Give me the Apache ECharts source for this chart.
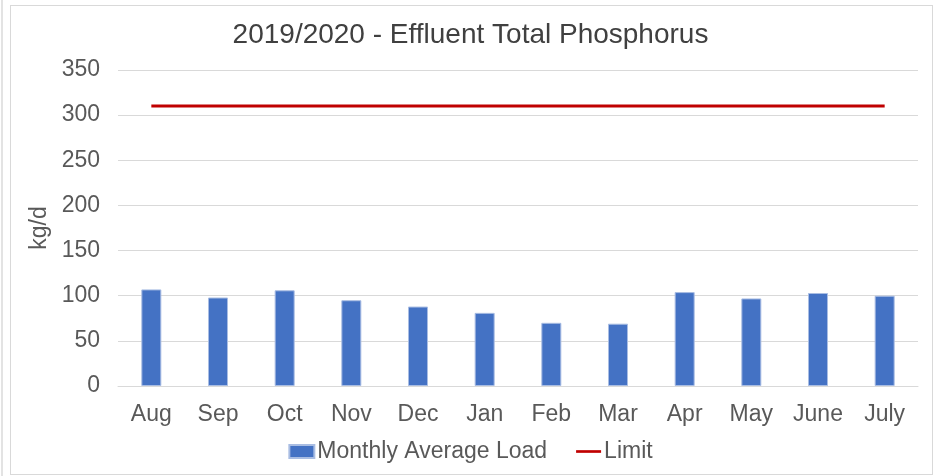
<!DOCTYPE html>
<html>
<head>
<meta charset="utf-8">
<script src="https://cdn.jsdelivr.net/npm/echarts@6/dist/echarts.min.js"></script>
<style>
html,body{margin:0;padding:0;background:#fff;}
#wrap{position:absolute;left:10px;top:5px;width:923px;height:470px;border:1.5px solid #d9d9d9;box-sizing:border-box;}
#strip{position:absolute;left:1px;top:0;width:2px;height:476px;background:#e3e3e3;}
#c{position:absolute;left:0;top:0;width:941px;height:476px;}
</style>
</head>
<body>
<div id="strip"></div>
<div id="wrap"></div>
<div id="c"></div>
<script>
const categories = ['Aug','Sep','Oct','Nov','Dec','Jan','Feb','Mar','Apr','May','June','July'];
const monthlyAverageLoad = [107, 98, 106, 95, 88, 81, 70, 69, 104, 97, 103, 100];
const limitValues = [310, 310, 310, 310, 310, 310, 310, 310, 310, 310, 310, 310];
const yTicks = [0, 50, 100, 150, 200, 250, 300, 350];

const chart = echarts.init(document.getElementById('c'));
const font = 'Liberation Sans, Arial, sans-serif';
chart.setOption({
  animation: false,
  title: {
    text: '2019/2020 - Effluent Total Phosphorus',
    left: 'center', top: 16,
    textStyle: {fontFamily: font, fontSize: 28, fontWeight: 'normal', color: '#404040'}
  },
  grid: {left: 118, right: 23, top: 70, bottom: 90},
  legend: {
    bottom: 8, left: 'center',
    itemWidth: 25, itemHeight: 13, itemGap: 29,
    textStyle: {fontFamily: font, fontSize: 23, color: '#595959', padding: [0, 0, 0, -2]},
    data: [
      {name: 'Monthly Average Load', icon: 'rect'},
      {name: 'Limit', icon: 'path://M0,0 L28,0 L28,3 L0,3 Z'}
    ]
  },
  xAxis: {
    type: 'category', data: categories,
    axisLine: {lineStyle: {color: '#d9d9d9', width: 1}},
    axisTick: {show: false},
    axisLabel: {fontFamily: font, fontSize: 23, color: '#595959', margin: 17}
  },
  yAxis: {
    type: 'value', min: 0, max: 350, interval: 50,
    name: 'kg/d', nameLocation: 'middle', nameGap: 60, nameRotate: 90,
    nameTextStyle: {fontFamily: font, fontSize: 23, color: '#595959'},
    axisLine: {show: false}, axisTick: {show: false},
    axisLabel: {fontFamily: font, fontSize: 23, color: '#595959', margin: 18,
      formatter: v => yTicks.includes(v) ? String(v) : ''},
    splitLine: {lineStyle: {color: '#d9d9d9', width: 1}}
  },
  series: [
    {
      name: 'Monthly Average Load', type: 'bar', data: monthlyAverageLoad,
      barWidth: '30%',
      itemStyle: {color: '#4472C4', borderColor: '#a9bde3', borderWidth: 1}
    },
    {
      name: 'Limit', type: 'line', data: limitValues,
      symbol: 'none',
      lineStyle: {color: '#C00000', width: 3},
      itemStyle: {color: '#C00000'}
    }
  ]
});
</script>
</body>
</html>
